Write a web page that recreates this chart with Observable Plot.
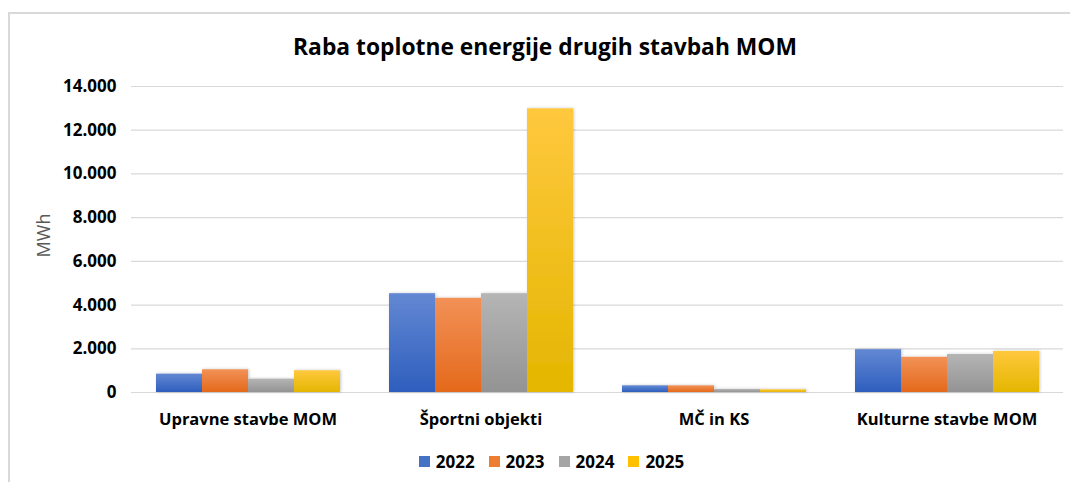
<!DOCTYPE html>
<html>
<head>
<meta charset="utf-8">
<script src="https://cdn.jsdelivr.net/npm/d3@7"></script>
<script src="https://cdn.jsdelivr.net/npm/@observablehq/plot@0.6"></script>
<style>
  body { margin: 0; background: #fff; font-family: "Open Sans", sans-serif; }
  #wrap { position: relative; width: 1070px; height: 482px; overflow: hidden; background: #fff; }
  #frame { position: absolute; left: 8px; top: 12px; width: 1200px; height: 600px;
           border-left: 2px solid #d9d9d9; border-top: 2px solid #d9d9d9; pointer-events: none; }
  #title { box-sizing: border-box; height: 70px; padding-top: 32px; padding-left: 20px;
           text-align: center; font-weight: 700; font-size: 22.8px; line-height: 30px; color: #000; }
  #chart { height: 370px; }
  #legend { display: flex; justify-content: center; align-items: center; height: 42px;
            padding-left: 33px; font-weight: 700; font-size: 17px; color: #000; }
  .item { display: flex; align-items: center; margin: 0 7px; }
  .sw { width: 11px; height: 11px; margin-right: 6px; }
</style>
</head>
<body>
<div id="wrap">
  <div id="frame"></div>
  <div id="title"></div>
  <div id="chart"></div>
  <div id="legend"></div>
</div>
<script>
const titleText = "Raba toplotne energije drugih stavbah MOM";
const yLabel = "MWh";
const categories = ["Upravne stavbe MOM", "Športni objekti", "MČ in KS", "Kulturne stavbe MOM"];
const years = ["2022", "2023", "2024", "2025"];
const values2022 = [840, 4520, 305, 1960];
const values2023 = [1040, 4310, 305, 1610];
const values2024 = [610, 4520, 140, 1740];
const values2025 = [995, 12980, 125, 1880];
const yTicks = [0, 2000, 4000, 6000, 8000, 10000, 12000, 14000];
const legendColors = ["#4472c4", "#ed7d31", "#a5a5a5", "#ffc000"];
const gradTop = ["#6388d3", "#f29157", "#b5b5b5", "#ffc83e"];
const gradBottom = ["#2e5ebd", "#e4691b", "#939393", "#e4b600"];

const series = [values2022, values2023, values2024, values2025];
const data = [];
categories.forEach((c, i) => years.forEach((y, j) => data.push({cat: c, year: y, value: series[j][i]})));

document.getElementById("title").textContent = titleText;

const fmt = d => d3.format(",")(d).replace(/,/g, ".");

const svg = Plot.plot({
  width: 1070,
  height: 370,
  marginTop: 16,
  marginBottom: 48,
  marginLeft: 131,
  marginRight: 7,
  style: {fontFamily: "'Open Sans', sans-serif", color: "#000", background: "transparent", overflow: "visible"},
  fx: {domain: categories, padding: 0, label: null},
  x: {domain: years, paddingInner: 0, paddingOuter: 0.5, axis: null},
  y: {domain: [0, 14000], axis: null},
  color: {type: "identity"},
  marks: [
    Plot.gridY(yTicks, {stroke: "#d9d9d9", strokeOpacity: 1, strokeWidth: 1.2}),
    Plot.barY(data, {fx: "cat", x: "year", y: "value", fill: d => "url(#grad" + d.year + ")"}),
    Plot.axisY(yTicks, {tickSize: 0, tickPadding: 15, tickFormat: fmt, fontSize: 17, fontWeight: "bold", label: null}),
    Plot.axisFx({tickSize: 0, tickPadding: 21, fontSize: 16.5, fontWeight: "bold", label: null, anchor: "bottom"}),
    Plot.text([yLabel], {frameAnchor: "left", dx: -87, dy: -4, rotate: -90, textAnchor: "middle", fontSize: 18, fill: "#595959", facet: "super"})
  ]
});

const ns = "http://www.w3.org/2000/svg";
const defs = document.createElementNS(ns, "defs");
years.forEach((y, j) => {
  const g = document.createElementNS(ns, "linearGradient");
  g.setAttribute("id", "grad" + y);
  g.setAttribute("x1", "0"); g.setAttribute("y1", "0");
  g.setAttribute("x2", "0"); g.setAttribute("y2", "1");
  [[0, gradTop[j]], [1, gradBottom[j]]].forEach(([o, c]) => {
    const s = document.createElementNS(ns, "stop");
    s.setAttribute("offset", o); s.setAttribute("stop-color", c);
    g.appendChild(s);
  });
  defs.appendChild(g);
});
const f = document.createElementNS(ns, "filter");
f.setAttribute("id", "shadow");
f.setAttribute("x", "-20%"); f.setAttribute("y", "-20%");
f.setAttribute("width", "140%"); f.setAttribute("height", "140%");
const ds = document.createElementNS(ns, "feDropShadow");
ds.setAttribute("dx", "1"); ds.setAttribute("dy", "0");
ds.setAttribute("stdDeviation", "1.5");
ds.setAttribute("flood-color", "#000"); ds.setAttribute("flood-opacity", "0.22");
f.appendChild(ds);
defs.appendChild(f);
svg.insertBefore(defs, svg.firstChild);
svg.querySelectorAll('g[aria-label="bar"]').forEach(g => g.setAttribute("filter", "url(#shadow)"));

document.getElementById("chart").appendChild(svg);

const legend = document.getElementById("legend");
years.forEach((y, j) => {
  const it = document.createElement("div");
  it.className = "item";
  const sw = document.createElement("div");
  sw.className = "sw";
  sw.style.background = legendColors[j];
  const t = document.createElement("span");
  t.textContent = y;
  it.appendChild(sw); it.appendChild(t);
  legend.appendChild(it);
});
</script>
</body>
</html>
